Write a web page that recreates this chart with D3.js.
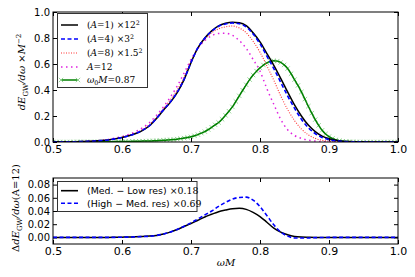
<!DOCTYPE html>
<html lang="en">
    <head>
        <meta charset="utf-8">
        <title>dE/domega</title>
        <script type="text/javascript" src="https://cdn.jsdelivr.net/npm/d3@7"></script>
        <style>
          body { margin: 0; background: white; }
          .tick text { font-family: "DejaVu Sans", sans-serif; font-size: 10px; fill: black; }
          .xax .tick text { font-size: 11px; }
          .tick line { stroke: black; }
        </style>
    </head>
    <body>
        <script type="text/javascript">
          // omega grid (0.01 steps) for the top and bottom panels
          var omega = d3.range(51).map(function(i) { return 0.5 + i * 0.01; });
          // finer grid for the w0 M = 0.87 run (0.005 steps)
          var omegaFine = d3.range(101).map(function(i) { return 0.5 + i * 0.005; });

          var a1 = [0.000,0.001,0.001,0.002,0.003,0.005,0.007,0.011,0.016,0.024,
                    0.035,0.048,0.065,0.090,0.125,0.180,0.245,0.305,0.380,0.480,
                    0.610,0.725,0.800,0.855,0.893,0.913,0.922,0.918,0.895,0.840,
                    0.770,0.680,0.590,0.490,0.385,0.285,0.200,0.130,0.080,0.045,
                    0.025,0.013,0.006,0.003,0.002,0.001,0.000,0.000,0.000,0.000,0.000];
          var a4 = [0.000,0.001,0.001,0.002,0.003,0.005,0.007,0.011,0.016,0.024,
                    0.035,0.048,0.066,0.091,0.127,0.182,0.247,0.308,0.383,0.483,
                    0.612,0.725,0.798,0.852,0.890,0.908,0.915,0.910,0.885,0.830,
                    0.755,0.660,0.565,0.460,0.355,0.260,0.175,0.110,0.065,0.035,
                    0.018,0.009,0.004,0.002,0.001,0.000,0.000,0.000,0.000,0.000,0.000];
          var a8 = [0.000,0.001,0.001,0.002,0.003,0.005,0.008,0.012,0.018,0.027,
                    0.038,0.052,0.070,0.097,0.135,0.190,0.255,0.325,0.400,0.500,
                    0.620,0.720,0.790,0.840,0.870,0.886,0.892,0.877,0.840,0.775,
                    0.690,0.585,0.475,0.355,0.250,0.165,0.100,0.055,0.028,0.013,
                    0.006,0.003,0.001,0.000,0.000,0.000,0.000,0.000,0.000,0.000,0.000];
          var a12 = [0.000,0.001,0.001,0.002,0.003,0.005,0.008,0.013,0.020,0.030,
                     0.042,0.058,0.080,0.110,0.150,0.205,0.270,0.345,0.430,0.530,
                     0.635,0.720,0.780,0.818,0.835,0.836,0.820,0.780,0.720,0.635,
                     0.545,0.410,0.290,0.175,0.095,0.050,0.028,0.014,0.007,0.003,
                     0.001,0.000,0.000,0.000,0.000,0.000,0.000,0.000,0.000,0.000,0.000];
          var w087 = [0.000,0.000,0.000,0.000,0.000,0.000,0.001,0.001,0.001,0.001,
                      0.001,0.001,0.001,0.001,0.002,0.002,0.002,0.002,0.003,0.003,
                      0.003,0.004,0.004,0.005,0.005,0.006,0.007,0.007,0.008,0.009,
                      0.010,0.012,0.013,0.015,0.017,0.019,0.022,0.026,0.030,0.035,
                      0.040,0.048,0.057,0.068,0.080,0.096,0.113,0.132,0.150,0.175,
                      0.205,0.237,0.270,0.312,0.355,0.398,0.440,0.480,0.515,0.545,
                      0.570,0.592,0.608,0.620,0.625,0.622,0.612,0.593,0.565,0.525,
                      0.480,0.435,0.385,0.330,0.275,0.222,0.172,0.128,0.090,0.062,
                      0.042,0.027,0.016,0.010,0.006,0.004,0.002,0.001,0.001,0.000,
                      0.000,0.000,0.000,0.000,0.000,0.000,0.000,0.000,0.000,0.000,0.000];

          var medLow = [0,0,0,0,0,0,0,0,0,0.0002,
                        0.0004,0.0006,0.0010,0.0015,0.0020,0.0030,0.0050,0.0080,0.0120,0.0165,
                        0.0210,0.0260,0.0310,0.0350,0.0390,0.0415,0.0435,0.0440,0.0425,0.0380,
                        0.0316,0.0230,0.0140,0.0080,0.0040,0.0015,0.0005,0.0002,0,0,
                        0,0,0,0,0,0,0,0,0,0,0];
          var highMed = [0,0,0,0,0,0,0,0,0,0.0001,
                         0.0003,0.0005,0.0008,0.0012,0.0018,0.0030,0.0050,0.0080,0.0120,0.0170,
                         0.0220,0.0280,0.0340,0.0400,0.0470,0.0530,0.0580,0.0605,0.0610,0.0565,
                         0.0466,0.0330,0.0190,0.0080,0.0020,-0.0008,-0.0010,-0.0008,-0.0004,-0.0002,
                         0,0,0,0,0,0,0,0,0,0,0];

          var xTicks = [0.5, 0.6, 0.7, 0.8, 0.9, 1.0];
          var yTicksTop = [0.0, 0.2, 0.4, 0.6, 0.8, 1.0];
          var yTicksBot = [0.00, 0.02, 0.04, 0.06, 0.08];

          var w = 415, h = 277;
          var left = 53, right = 398;
          var topPanel = [12, 142], botPanel = [178, 244];

          var svg = d3.select("body").append("svg")
                      .attr("width", w)
                      .attr("height", h);

          var xScale = d3.scaleLinear().domain([0.5, 1.0]).range([left, right]);
          var yTop = d3.scaleLinear().domain([0, 1]).range([topPanel[1], topPanel[0]]);
          var yBot = d3.scaleLinear().domain([-0.01, 0.09]).range([botPanel[1], botPanel[0]]);

          // rich text helper: italic, superscript and subscript pieces
          function rich(sel, parts) {
            var shift = 0;
            parts.forEach(function(p) {
              var t = sel.append("tspan").text(p.t);
              var want = p.sup ? -p.sup : (p.sub ? p.sub : 0);
              if (want !== shift) { t.attr("dy", want - shift); shift = want; }
              if (p.i) t.style("font-style", "italic");
              if (p.sup || p.sub) t.style("font-size", "70%");
              if (p.f) t.style("font-family", p.f);
            });
          }

          function frame(y) {
            var g = svg.append("g");
            g.append("g")
              .attr("class", "xax")
              .attr("transform", "translate(0," + y.range()[0] + ")")
              .call(d3.axisBottom(xScale).tickValues(xTicks).tickFormat(d3.format(".1f"))
                      .tickSizeInner(-4).tickSizeOuter(0).tickPadding(3))
              .select(".domain").remove();
            g.append("g")
              .attr("transform", "translate(0," + y.range()[1] + ")")
              .call(d3.axisTop(xScale).tickValues(xTicks).tickFormat("")
                      .tickSizeInner(-4).tickSizeOuter(0))
              .select(".domain").remove();
            return g;
          }

          // top panel
          var gTop = frame(yTop);
          gTop.append("g")
            .attr("transform", "translate(" + left + ",0)")
            .call(d3.axisLeft(yTop).tickValues(yTicksTop).tickFormat(d3.format(".1f"))
                    .tickSizeInner(-4).tickSizeOuter(0).tickPadding(3))
            .select(".domain").remove();
          gTop.append("g")
            .attr("transform", "translate(" + right + ",0)")
            .call(d3.axisRight(yTop).tickValues(yTicksTop).tickFormat("")
                    .tickSizeInner(-4).tickSizeOuter(0))
            .select(".domain").remove();

          // bottom panel
          var gBot = frame(yBot);
          gBot.append("g")
            .attr("transform", "translate(" + left + ",0)")
            .call(d3.axisLeft(yBot).tickValues(yTicksBot).tickFormat(d3.format(".2f"))
                    .tickSizeInner(-4).tickSizeOuter(0).tickPadding(3))
            .select(".domain").remove();
          gBot.append("g")
            .attr("transform", "translate(" + right + ",0)")
            .call(d3.axisRight(yBot).tickValues(yTicksBot).tickFormat("")
                    .tickSizeInner(-4).tickSizeOuter(0))
            .select(".domain").remove();

          // clip paths for each panel
          var defs = svg.append("defs");
          defs.append("clipPath").attr("id", "clipTop").append("rect")
            .attr("x", left).attr("y", topPanel[0]).attr("width", right - left).attr("height", topPanel[1] - topPanel[0]);
          defs.append("clipPath").attr("id", "clipBot").append("rect")
            .attr("x", left).attr("y", botPanel[0]).attr("width", right - left).attr("height", botPanel[1] - botPanel[0]);

          function lineFor(xs, y) {
            return d3.line()
                     .x(function(d, i) { return xScale(xs[i]); })
                     .y(function(d) { return y(d); })
                     .curve(d3.curveMonotoneX);
          }

          var markX = "M-2.2,-2.2L2.2,2.2M-2.2,2.2L2.2,-2.2";
          var curves = svg.append("g").attr("clip-path", "url(#clipTop)");

          // w0 M = 0.87 with x markers
          curves.append("g").selectAll("path.mk")
            .data(w087)
            .enter()
            .append("path")
            .attr("class", "mk")
            .attr("transform", function(d, i) { return "translate(" + xScale(omegaFine[i]) + "," + yTop(d) + ")"; })
            .attr("d", markX)
            .attr("stroke", "#8cd08c")
            .attr("stroke-width", 0.9)
            .attr("fill", "none");
          curves.append("path")
            .attr("d", lineFor(omegaFine, yTop)(w087))
            .attr("fill", "none").attr("stroke", "#008000").attr("stroke-width", 1.5);

          curves.append("path")
            .attr("d", lineFor(omega, yTop)(a12))
            .attr("fill", "none").attr("stroke", "#e020e0").attr("stroke-width", 1.5)
            .attr("stroke-dasharray", "1.5,3.5");
          curves.append("path")
            .attr("d", lineFor(omega, yTop)(a8))
            .attr("fill", "none").attr("stroke", "#ff3030").attr("stroke-width", 1.1)
            .attr("stroke-dasharray", "1,1.5");
          curves.append("path")
            .attr("d", lineFor(omega, yTop)(a1))
            .attr("fill", "none").attr("stroke", "black").attr("stroke-width", 1.5);
          curves.append("path")
            .attr("d", lineFor(omega, yTop)(a4))
            .attr("fill", "none").attr("stroke", "#0000ff").attr("stroke-width", 1.6)
            .attr("stroke-dasharray", "4,2.5");

          var curvesBot = svg.append("g").attr("clip-path", "url(#clipBot)");
          curvesBot.append("path")
            .attr("d", lineFor(omega, yBot)(medLow))
            .attr("fill", "none").attr("stroke", "black").attr("stroke-width", 1.5);
          curvesBot.append("path")
            .attr("d", lineFor(omega, yBot)(highMed))
            .attr("fill", "none").attr("stroke", "#0000ff").attr("stroke-width", 1.6)
            .attr("stroke-dasharray", "4,2.5");

          // panel frames
          [topPanel, botPanel].forEach(function(p) {
            svg.append("rect")
              .attr("x", left).attr("y", p[0])
              .attr("width", right - left).attr("height", p[1] - p[0])
              .attr("fill", "none").attr("stroke", "black").attr("stroke-width", 1);
          });

          // top legend
          var serif = "'DejaVu Serif', serif";
          var leg = svg.append("g");
          leg.append("rect").attr("x", 57.5).attr("y", 13.5).attr("width", 90).attr("height", 74)
            .attr("fill", "white").attr("stroke", "#333").attr("stroke-width", 1);
          var legRows = [
            {y: 25, stroke: "black", dash: null, sw: 1.5,
             parts: [{t: "("}, {t: "A", i: 1}, {t: "=1)  \u00d712"}, {t: "2", sup: 3.5}]},
            {y: 39, stroke: "#0000ff", dash: "4,2.5", sw: 1.6,
             parts: [{t: "("}, {t: "A", i: 1}, {t: "=4)  \u00d73"}, {t: "2", sup: 3.5}]},
            {y: 53, stroke: "#ff3030", dash: "1,1.5", sw: 1.1,
             parts: [{t: "("}, {t: "A", i: 1}, {t: "=8)  \u00d71.5"}, {t: "2", sup: 3.5}]},
            {y: 67, stroke: "#e020e0", dash: "1.5,3.5", sw: 1.5,
             parts: [{t: "A", i: 1}, {t: "=12"}]},
            {y: 80, stroke: "#008000", dash: null, sw: 1.5,
             parts: [{t: "\u03c9", i: 1}, {t: "0", sub: 2}, {t: "M", i: 1}, {t: "=0.87"}]}
          ];
          legRows.forEach(function(r) {
            leg.append("line").attr("x1", 61).attr("x2", 78).attr("y1", r.y).attr("y2", r.y)
              .attr("stroke", r.stroke).attr("stroke-width", r.sw)
              .attr("stroke-dasharray", r.dash);
            var t = leg.append("text").attr("x", 87).attr("y", r.y + 3)
              .style("font-family", serif).style("font-size", "9px");
            rich(t, r.parts);
          });
          [61, 78].forEach(function(x) {
            leg.append("path")
              .attr("transform", "translate(" + x + ",80)")
              .attr("d", markX)
              .attr("stroke", "#8cd08c").attr("stroke-width", 0.9);
          });

          // bottom legend
          var leg2 = svg.append("g");
          leg2.append("rect").attr("x", 57.5).attr("y", 181.5).attr("width", 139.5).attr("height", 30)
            .attr("fill", "white").attr("stroke", "#333").attr("stroke-width", 1);
          var leg2Rows = [
            {y: 190.7, stroke: "black", dash: null, name: "(Med. \u2212 Low res) ", f: "\u00d70.18"},
            {y: 203.3, stroke: "#0000ff", dash: "4,2.5", name: "(High \u2212 Med. res) ", f: "\u00d70.69"}
          ];
          leg2Rows.forEach(function(r) {
            leg2.append("line").attr("x1", 61).attr("x2", 78).attr("y1", r.y).attr("y2", r.y)
              .attr("stroke", r.stroke).attr("stroke-width", 1.6)
              .attr("stroke-dasharray", r.dash);
            var t = leg2.append("text").attr("x", 87).attr("y", r.y + 3.3)
              .style("font-family", "'DejaVu Sans', sans-serif").style("font-size", "9.4px");
            rich(t, [{t: r.name}, {t: r.f, f: serif}]);
          });

          // axis labels
          var yl1 = svg.append("text")
            .attr("transform", "rotate(-90)")
            .attr("x", -72).attr("y", 25)
            .attr("text-anchor", "middle")
            .style("font-family", serif).style("font-size", "10px");
          rich(yl1, [{t: "dE", i: 1}, {t: "GW", sub: 2.5}, {t: "/d\u03c9 ", i: 1}, {t: "\u00d7"}, {t: "M", i: 1}, {t: "\u22122", sup: 4}]);

          var yl2 = svg.append("text")
            .attr("transform", "rotate(-90)")
            .attr("x", -208).attr("y", 19)
            .attr("text-anchor", "middle")
            .style("font-family", serif).style("font-size", "10px");
          rich(yl2, [{t: "\u0394"}, {t: "dE", i: 1}, {t: "GW", sub: 2.5}, {t: "/d\u03c9", i: 1}, {t: "(A=12)"}]);

          svg.append("text")
            .attr("x", 226).attr("y", 266)
            .attr("text-anchor", "middle")
            .style("font-family", serif).style("font-size", "10px")
            .style("font-style", "italic")
            .text("\u03c9M");
        </script>
    </body>
</html>
